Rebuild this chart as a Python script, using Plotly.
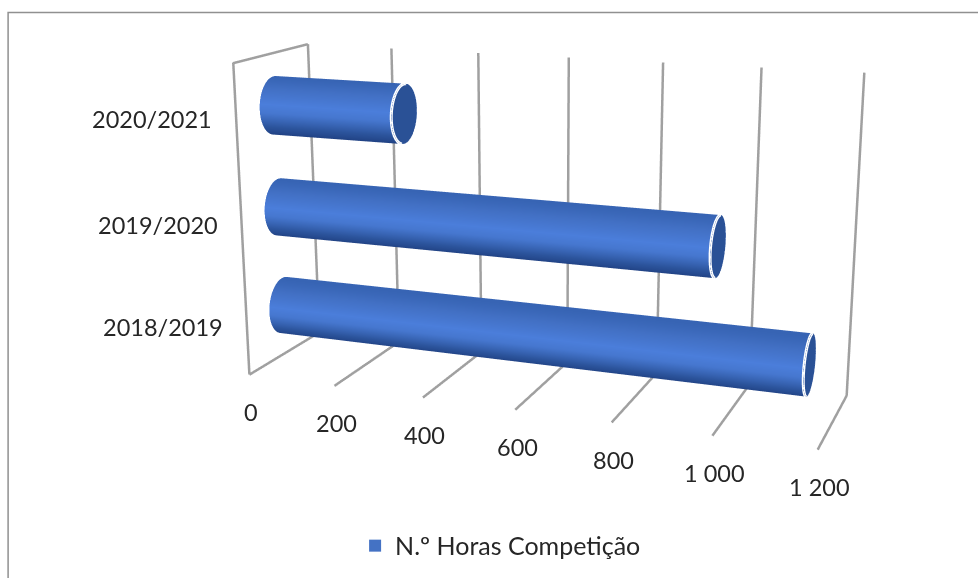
import numpy as np
import plotly.graph_objects as go

categories = ["2018/2019", "2019/2020", "2020/2021"]
hours = [1150, 962, 300]
value_ticks = [0, 200, 400, 600, 800, 1000, 1200]
value_labels = ["0", "200", "400", "600", "800", "1 000", "1 200"]
series_name = "N.º Horas Competição"

W, H = 978, 578
XMAX = 1200.0
ZMAX = 3.0

# perspective of the reference, solved once from its gridline corners
eye = [1.271, -3.4339, 0.9222]
cen = [0.0022, -0.0192, -0.0833]
asp = [1.4245, 0.3671, 0.7794]
foc, ppx, ppy = 1582.9, 540.9, 266.6

H2 = int(round(foc/1.20711))
W2 = int(2*max(abs(ppx), abs(W-ppx)))+4
ox = W2/2-ppx
oy = H2/2-ppy
def PX(x): return (x+ox)/W2
def PY(y): return 1-(y+oy)/H2

R_WORLD = 0.28*asp[2]/3
ry = R_WORLD/asp[1]
rz = R_WORLD/asp[2]*ZMAX

fig = go.Figure()
side_scale = [[0,"#1f3f80"],[0.2,"#2c549c"],[0.45,"#4677cf"],[0.6,"#4b7edb"],[0.85,"#4270c4"],[1,"#3764b4"]]
theta = np.linspace(0, 2*np.pi, 73)
flat = dict(ambient=1, diffuse=0, specular=0, roughness=1, fresnel=0)
grid_line = dict(color="#a0a0a0", width=5)

# gridlines: floor and back wall for each value tick, plus the left wall outline
for t in value_ticks:
    fig.add_trace(go.Scatter3d(x=[t,t,t], y=[0,1,1], z=[0,0,ZMAX], mode="lines",
        line=grid_line, showlegend=False, hoverinfo="skip"))
fig.add_trace(go.Scatter3d(x=[0,0,0], y=[0,0,1], z=[0,ZMAX,ZMAX], mode="lines",
    line=grid_line, showlegend=False, hoverinfo="skip"))

for i, v in enumerate(hours):
    zc = i+0.5
    xx = np.array([0.0, float(v)])
    tt, xg = np.meshgrid(theta, xx)
    Y = 0.5 + ry*np.cos(tt)
    Z = zc + rz*np.sin(tt)
    fig.add_trace(go.Surface(x=xg, y=Y, z=Z, surfacecolor=np.sin(tt), cmin=-1, cmax=1,
        colorscale=side_scale, showscale=False, hoverinfo="skip", lighting=flat))
    rr = np.array([0.0, 1.0])
    rg, tg2 = np.meshgrid(rr, theta)
    fig.add_trace(go.Surface(x=np.full_like(rg, float(v)), y=0.5+ry*rg*np.cos(tg2), z=zc+rz*rg*np.sin(tg2),
        surfacecolor=np.zeros_like(rg), cmin=0, cmax=1, colorscale=[[0,"#2a5196"],[1,"#2a5196"]],
        showscale=False, hoverinfo="skip", lighting=flat))
    fig.add_trace(go.Scatter3d(x=np.full_like(theta, float(v)), y=0.5+ry*np.cos(theta), z=zc+rz*np.sin(theta),
        mode="lines", line=dict(color="white", width=6), showlegend=False, hoverinfo="skip"))

fig.add_trace(go.Scatter3d(x=[None], y=[None], z=[None], mode="markers", name=series_name,
    marker=dict(symbol="square", size=13, color="#4472c4")))

tf = dict(size=23.5, color="#262626", family="Lato")
annots = []
for t, lab in zip(value_ticks, value_labels):
    annots.append(dict(x=t, y=0, z=0, text=lab, showarrow=False, xanchor="center", yanchor="middle", xshift=2, yshift=-37, font=tf))
for i, lab in enumerate(categories):
    annots.append(dict(x=0, y=0, z=i+0.5, text=lab, showarrow=False, xanchor="right", yanchor="middle", xshift=-22, yshift=-2, font=tf))

ax = dict(showbackground=False, showticklabels=False, title=dict(text=""), zeroline=False, showspikes=False, showline=False, ticks="", showgrid=False, tickvals=[])
fig.update_layout(
    width=W2, height=H2, margin=dict(l=0, r=0, t=0, b=0), paper_bgcolor="white",
    font=dict(family="Lato", size=25, color="#262626"),
    showlegend=True,
    legend=dict(orientation="h", x=PX(501), y=PY(546), xanchor="center", yanchor="middle", bgcolor="rgba(0,0,0,0)", itemsizing="constant"),
    shapes=[dict(type="rect", xref="paper", yref="paper", x0=PX(8.5), x1=PX(995), y0=PY(595), y1=PY(12.5), line=dict(color="#909090", width=1.5))],
    scene=dict(
        domain=dict(x=[0,1], y=[0,1]),
        xaxis=dict(ax, range=[0,XMAX]),
        yaxis=dict(ax, range=[0,1]),
        zaxis=dict(ax, range=[0,ZMAX]),
        aspectmode="manual", aspectratio=dict(x=asp[0], y=asp[1], z=asp[2]),
        camera=dict(eye=dict(x=eye[0], y=eye[1], z=eye[2]), center=dict(x=cen[0], y=cen[1], z=cen[2]), up=dict(x=0,y=0,z=1), projection=dict(type="perspective")),
        annotations=annots,
    ),
)
js = "document.documentElement.style.overflow='hidden';document.body.style.overflow='hidden';document.body.style.margin='%.1fpx 0 0 %.1fpx';" % (-oy, -ox)
fig.write_html("out.html", post_script=js)
